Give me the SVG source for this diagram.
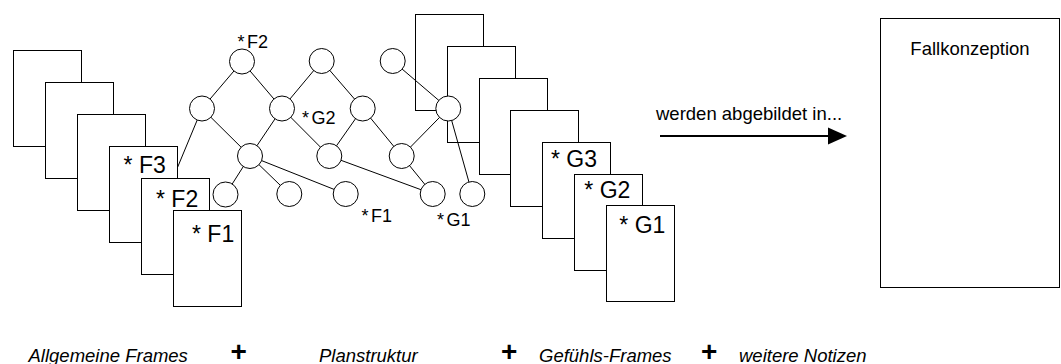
<svg xmlns="http://www.w3.org/2000/svg" width="1061" height="364" viewBox="0 0 1061 364">
  <defs>
    <style>
      .card { fill: #fff; stroke: #000; stroke-width: 1; }
      .node { fill: #fff; stroke: #000; stroke-width: 1; }
      .edge { stroke: #000; stroke-width: 1; fill: none; }
      text { font-family: "Liberation Sans", Arial, sans-serif; fill: #000; }
      .tag { font-size: 23px; }
      .ntag { font-size: 18px; word-spacing: -2.6px; }
      .lbl { font-size: 18.5px; }
      .foot { font-size: 18.5px; font-style: italic; }
      .plus { font-size: 28px; font-weight: bold; text-anchor: middle; }
    </style>
  </defs>
  <rect width="1061" height="364" fill="#fff"/>

  <!-- general frames: stacked cards -->
  <g id="frames-general">
    <rect class="card" x="13.5" y="50.5" width="68" height="96"/>
    <rect class="card" x="45.5" y="82.5" width="68" height="96"/>
    <rect class="card" x="77.5" y="114.5" width="68" height="96"/>
    <g id="frame-F3">
      <rect class="card" x="109.5" y="146.5" width="68" height="96"/>
      <text class="tag" x="123.6" y="173.3">* F3</text>
    </g>
    <g id="frame-F2">
      <rect class="card" x="141.5" y="178.5" width="68" height="96"/>
      <text class="tag" x="156" y="207">* F2</text>
    </g>
    <g id="frame-F1">
      <rect class="card" x="173.5" y="210.5" width="68" height="96"/>
      <text class="tag" x="192" y="241.5">* F1</text>
    </g>
  </g>

  <!-- feeling frames: stacked cards -->
  <g id="frames-feeling">
    <rect class="card" x="415.5" y="14.5" width="68" height="96"/>
    <rect class="card" x="447.5" y="46.5" width="68" height="96"/>
    <rect class="card" x="479.5" y="78.5" width="68" height="96"/>
    <rect class="card" x="510.5" y="110.5" width="68" height="96"/>
    <g id="frame-G3">
      <rect class="card" x="542.5" y="142.5" width="68" height="96"/>
      <text class="tag" x="551" y="166.7">* G3</text>
    </g>
    <g id="frame-G2">
      <rect class="card" x="574.5" y="174.5" width="68" height="96"/>
      <text class="tag" x="584.3" y="198.3">* G2</text>
    </g>
    <g id="frame-G1">
      <rect class="card" x="606.5" y="205.5" width="68" height="96"/>
      <text class="tag" x="619.3" y="232.7">* G1</text>
    </g>
  </g>

  <!-- plan structure: edges -->
  <g id="connectors">
    <line class="edge" x1="242" y1="61.5" x2="202" y2="108.5"/>
    <line class="edge" x1="242" y1="61.5" x2="282" y2="108.5"/>
    <line class="edge" x1="321.7" y1="61" x2="282" y2="108.5"/>
    <line class="edge" x1="321.7" y1="61" x2="362.7" y2="108.5"/>
    <line class="edge" x1="392.7" y1="61" x2="448.3" y2="108.5"/>
    <line class="edge" x1="202" y1="108.5" x2="177.7" y2="167"/>
    <line class="edge" x1="202" y1="108.5" x2="250" y2="156"/>
    <line class="edge" x1="282" y1="108.5" x2="250" y2="156"/>
    <line class="edge" x1="282" y1="108.5" x2="329.3" y2="156"/>
    <line class="edge" x1="362.7" y1="108.5" x2="329.3" y2="156"/>
    <line class="edge" x1="362.7" y1="108.5" x2="401.7" y2="156"/>
    <line class="edge" x1="448.3" y1="108.5" x2="401.7" y2="156"/>
    <line class="edge" x1="448.3" y1="108.5" x2="472.3" y2="194"/>
    <line class="edge" x1="250" y1="156" x2="225.5" y2="194.5"/>
    <line class="edge" x1="250" y1="156" x2="289.3" y2="194"/>
    <line class="edge" x1="250" y1="156" x2="345.7" y2="194"/>
    <line class="edge" x1="329.3" y1="156" x2="432.7" y2="194"/>
    <line class="edge" x1="401.7" y1="156" x2="432.7" y2="194"/>
  </g>

  <!-- plan structure: nodes -->
  <g id="plan-nodes">
    <g id="n-top1"><circle class="node" cx="242" cy="61.5" r="12.5"/></g>
    <g id="n-top2"><circle class="node" cx="321.7" cy="61" r="12.5"/></g>
    <g id="n-top3"><circle class="node" cx="392.7" cy="61" r="12.5"/></g>
    <g id="n-mid1"><circle class="node" cx="202" cy="108.5" r="12.5"/></g>
    <g id="n-mid2"><circle class="node" cx="282" cy="108.5" r="12.5"/></g>
    <g id="n-mid3"><circle class="node" cx="362.7" cy="108.5" r="12.5"/></g>
    <g id="n-mid4"><circle class="node" cx="448.3" cy="108.5" r="12.5"/></g>
    <g id="n-low1"><circle class="node" cx="250" cy="156" r="12.5"/></g>
    <g id="n-low2"><circle class="node" cx="329.3" cy="156" r="12.5"/></g>
    <g id="n-low3"><circle class="node" cx="401.7" cy="156" r="12.5"/></g>
    <g id="n-leaf1"><circle class="node" cx="225.5" cy="194.5" r="12.5"/></g>
    <g id="n-leaf2"><circle class="node" cx="289.3" cy="194" r="12.5"/></g>
    <g id="n-leaf3"><circle class="node" cx="345.7" cy="194" r="12.5"/></g>
    <g id="n-leaf4"><circle class="node" cx="432.7" cy="194" r="12.5"/></g>
    <g id="n-leaf5"><circle class="node" cx="472.3" cy="194" r="12.5"/></g>
  </g>

  <!-- node markers -->
  <g id="plan-tags">
    <text class="ntag" x="237.5" y="47.7">* F2</text>
    <text class="ntag" x="302" y="124">* G2</text>
    <text class="ntag" x="361.5" y="221.7">* F1</text>
    <text class="ntag" x="437" y="226.3">* G1</text>
  </g>

  <!-- mapping arrow -->
  <g id="mapping">
    <text class="lbl" x="656" y="120">werden abgebildet in...</text>
    <line x1="660" y1="136" x2="830" y2="136" stroke="#000" stroke-width="2"/>
    <polygon points="828,127.5 847,136 828,144.5" fill="#000"/>
  </g>

  <!-- case conception -->
  <g id="case-conception">
    <rect class="card" x="880.5" y="18.5" width="179" height="269"/>
    <text class="lbl" x="970" y="55" text-anchor="middle">Fallkonzeption</text>
  </g>

  <!-- legend row -->
  <g id="legend">
    <text class="foot" x="28.5" y="362">Allgemeine Frames</text>
    <text class="plus" x="238.7" y="361">+</text>
    <text class="foot" x="319" y="362">Planstruktur</text>
    <text class="plus" x="509.2" y="361">+</text>
    <text class="foot" x="539" y="362">Gefühls-Frames</text>
    <text class="plus" x="709.2" y="361">+</text>
    <text class="foot" x="739" y="362">weitere Notizen</text>
  </g>
</svg>
